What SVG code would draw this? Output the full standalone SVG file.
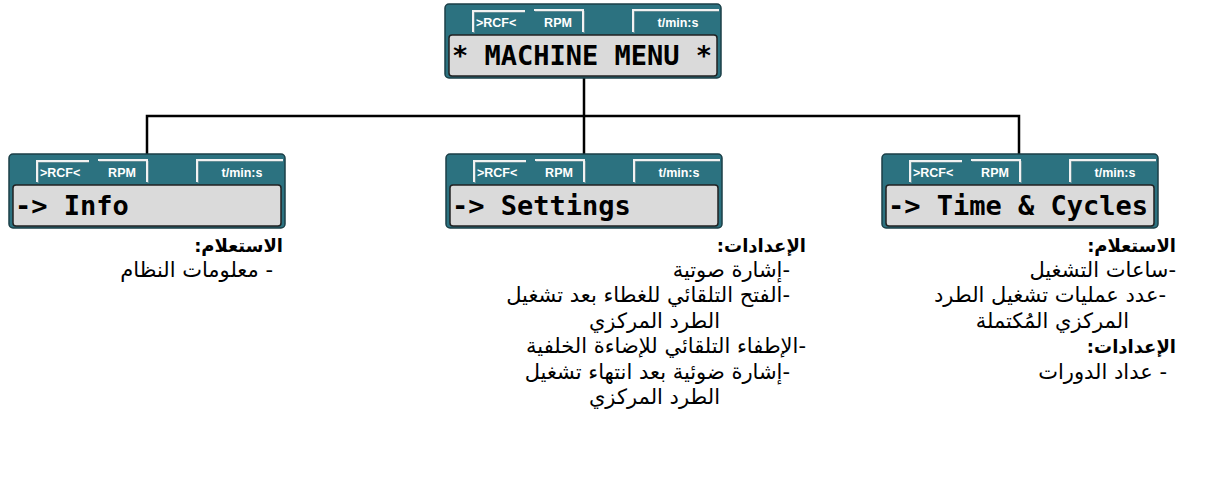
<svg xmlns="http://www.w3.org/2000/svg" width="1207" height="492" viewBox="0 0 1207 492">
<style>
.outer{fill:#2c7280;stroke:#1b3f47;stroke-width:1.5}
.inner{fill:#dadada;stroke:#222;stroke-width:1.5}
.tab{fill:none;stroke:#f2f2f2;stroke-width:2}
.tabs{fill:none;stroke:#9aa7aa;stroke-width:1}
.tl{font-family:"Liberation Sans",Arial,sans-serif;font-weight:bold;font-size:12.5px;fill:#fff}
.lcd{font-family:"DejaVu Sans Mono",monospace;font-weight:bold;font-size:27px;fill:#000}
.ar{font-family:"DejaVu Sans","Liberation Sans",sans-serif;font-size:21px;fill:#000}
.arb{font-weight:bold;font-size:18px}
.conn{fill:none;stroke:#000;stroke-width:2.5}
</style>
<defs>
<g id="frame">
<rect class="outer" x="0" y="0" width="276" height="74" rx="4"/>
<rect class="inner" x="4" y="31" width="268" height="41" rx="3"/>
<path class="tabs" d="M29 29V8H80 M90 7H139V29 M189 29V7H274"/>
<path class="tab" d="M28 28V7H80 M89 6H138V28 M188 28V6H274"/>
<text class="tl" x="31" y="23">&gt;RCF&lt;</text>
<text class="tl" x="113" y="23" text-anchor="middle">RPM</text>
<text class="tl" x="233" y="23" text-anchor="middle">t/min:s</text>
</g>
</defs>
<g id="connectors">
<path class="conn" d="M584 78V116 M147 155V116H1019V155 M584 116V155"/>
</g>
<g id="node-machine-menu">
<use href="#frame" x="445" y="4"/>
<text class="lcd" x="452" y="65">* MACHINE MENU *</text>
</g>
<g id="node-info">
<use href="#frame" x="9" y="154"/>
<text class="lcd" x="15" y="215">-&gt; Info</text>
</g>
<g id="node-settings">
<use href="#frame" x="446" y="154"/>
<text class="lcd" x="452" y="215">-&gt; Settings</text>
</g>
<g id="node-time">
<use href="#frame" x="882" y="154"/>
<text class="lcd" x="888" y="215">-&gt; Time &amp; Cycles</text>
</g>
<g id="text-info" class="ar" direction="rtl">
<text class="arb" x="283" y="252">الاستعلام:</text>
<text x="273" y="277">- معلومات النظام</text>
</g>
<g id="text-settings" class="ar" direction="rtl">
<text class="arb" x="806" y="252">الإعدادات:</text>
<text x="790" y="277">-إشارة صوتية</text>
<text x="790" y="302">-الفتح التلقائي للغطاء بعد تشغيل</text>
<text x="720" y="328">الطرد المركزي</text>
<text x="806" y="353">-الإطفاء التلقائي للإضاءة الخلفية</text>
<text x="790" y="379">-إشارة ضوئية بعد انتهاء تشغيل</text>
<text x="720" y="404">الطرد المركزي</text>
</g>
<g id="text-time" class="ar" direction="rtl">
<text class="arb" x="1176" y="252">الاستعلام:</text>
<text x="1176" y="277">-ساعات التشغيل</text>
<text x="1166" y="302">-عدد عمليات تشغيل الطرد</text>
<text x="1129" y="328">المركزي المُكتملة</text>
<text class="arb" x="1176" y="353">الإعدادات:</text>
<text x="1167" y="379">- عداد الدورات</text>
</g>
</svg>
